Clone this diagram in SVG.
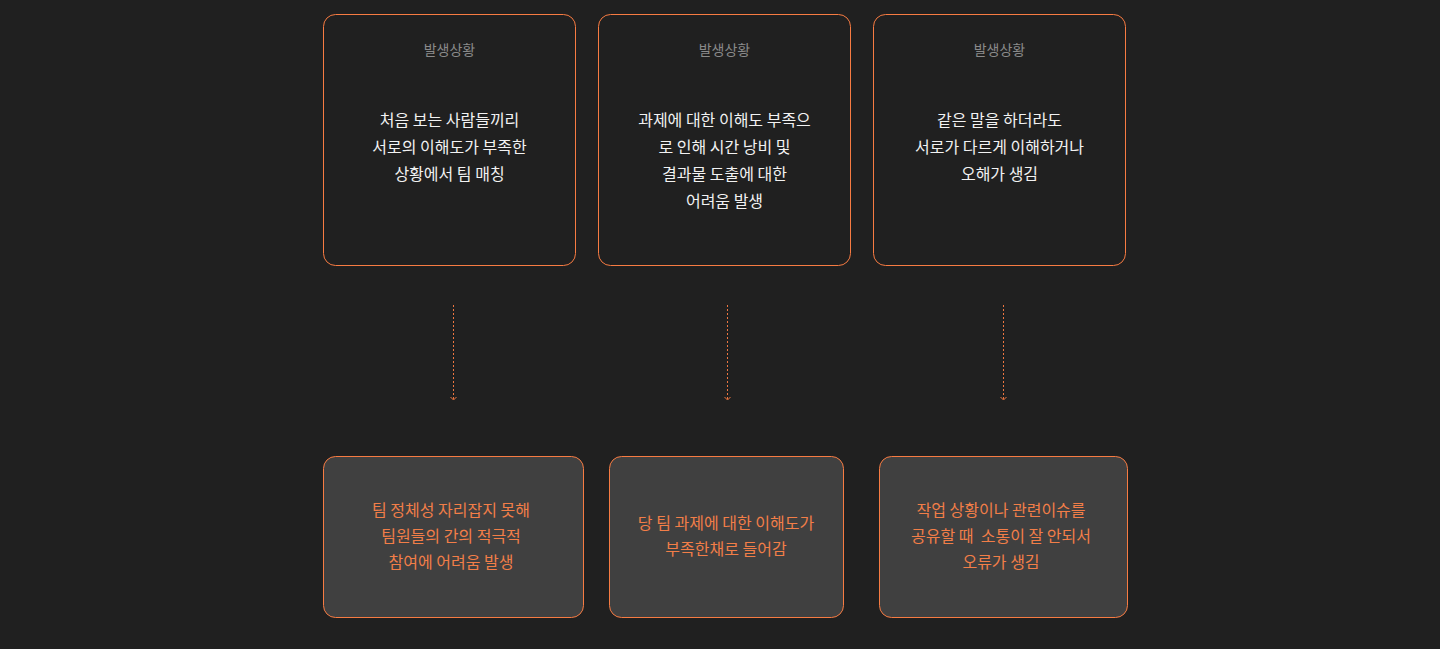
<svg xmlns="http://www.w3.org/2000/svg" width="1440" height="649" viewBox="0 0 1440 649">
<style>
.top{fill:#202020;stroke:#f77b42;stroke-width:1}
.bot{fill:#404040;stroke:#f77b42;stroke-width:1}
.ttl{font-family:"Noto Sans CJK KR","Noto Sans",sans-serif;font-size:14px;fill:#8a8a8a;text-anchor:middle}
.body{font-family:"Noto Sans CJK KR","Noto Sans",sans-serif;font-size:16px;fill:#f2f2f2;text-anchor:middle}
.obody{font-family:"Noto Sans CJK KR","Noto Sans",sans-serif;font-size:16px;fill:#f27e48;text-anchor:middle}
.con{stroke:#ee7640;stroke-width:1;stroke-dasharray:2 2;fill:none}
.head{stroke:#ee7640;stroke-width:1;fill:none}
</style>
<rect width="1440" height="649" fill="#202020"/>
<g id="top1">
<rect class="top" x="323.5" y="14.5" width="252" height="251" rx="12"/>
<text class="ttl" x="449.5" y="55">발생상황</text>
<text class="body" x="449.5" y="126">처음 보는 사람들끼리</text>
<text class="body" x="449.5" y="153">서로의 이해도가 부족한</text>
<text class="body" x="449.5" y="180">상황에서 팀 매칭</text>
</g>
<g id="top2">
<rect class="top" x="598.5" y="14.5" width="252" height="251" rx="12"/>
<text class="ttl" x="724.5" y="55">발생상황</text>
<text class="body" x="724.5" y="126">과제에 대한 이해도 부족으</text>
<text class="body" x="724.5" y="153">로 인해 시간 낭비 및</text>
<text class="body" x="724.5" y="180">결과물 도출에 대한</text>
<text class="body" x="724.5" y="207">어려움 발생</text>
</g>
<g id="top3">
<rect class="top" x="873.5" y="14.5" width="252" height="251" rx="12"/>
<text class="ttl" x="999.5" y="55">발생상황</text>
<text class="body" x="999.5" y="126">같은 말을 하더라도</text>
<text class="body" x="999.5" y="153">서로가 다르게 이해하거나</text>
<text class="body" x="999.5" y="180">오해가 생김</text>
</g>
<g id="connectors">
<line class="con" x1="453.5" y1="305" x2="453.5" y2="399"/>
<polyline class="head" points="450.5,397 453.5,400 456.5,397"/>
<line class="con" x1="727.5" y1="305" x2="727.5" y2="399"/>
<polyline class="head" points="724.5,397 727.5,400 730.5,397"/>
<line class="con" x1="1003.5" y1="305" x2="1003.5" y2="399"/>
<polyline class="head" points="1000.5,397 1003.5,400 1006.5,397"/>
</g>
<g id="bot1">
<rect class="bot" x="323.5" y="456.5" width="260" height="161" rx="12"/>
<text class="obody" x="451" y="516">팀 정체성 자리잡지 못해</text>
<text class="obody" x="451" y="542">팀원들의 간의 적극적</text>
<text class="obody" x="451" y="568">참여에 어려움 발생</text>
</g>
<g id="bot2">
<rect class="bot" x="609.5" y="456.5" width="234" height="161" rx="12"/>
<text class="obody" x="726" y="529">당 팀 과제에 대한 이해도가</text>
<text class="obody" x="726" y="555">부족한채로 들어감</text>
</g>
<g id="bot3">
<rect class="bot" x="879.5" y="456.5" width="248" height="161" rx="12"/>
<text class="obody" x="1001" y="516">작업 상황이나 관련이슈를</text>
<text class="obody" x="1001" y="542" xml:space="preserve">공유할 때  소통이 잘 안되서</text>
<text class="obody" x="1001" y="568">오류가 생김</text>
</g>
</svg>
